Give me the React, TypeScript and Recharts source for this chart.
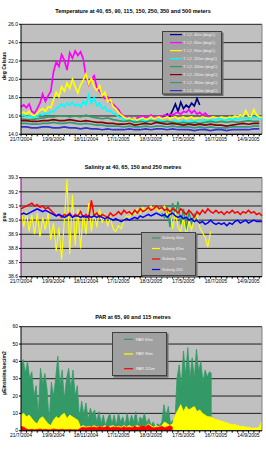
import React from "react";
import { ComposedChart, Line, Area, XAxis, YAxis, CartesianGrid, ReferenceLine, Legend } from "recharts";

const FONT = "'Liberation Sans', Arial, sans-serif";
const W = 266;

// day 0 = 21/7/2004
const LAST_DAY = 445;
const DATE_TICKS = [0, 60, 120, 180, 240, 300, 360, 420];
const DATE_LABELS = ["21/7/2004", "19/9/2004", "18/11/2004", "17/1/2005", "18/3/2005", "17/5/2005", "16/7/2005", "14/9/2005"];
const MINOR_TICKS = Array.from({ length: 45 }, (_, i) => i * 10);

// ---- temperature, degC ----
const temp40m = [15.8, 15.9, 16.2, 16.0, 16.6, 17.3, 16.5, 17.5, 16.8, 17.2, 16.9, 17.4, 17.1, 17.9, 17.2]; // from day 260, every 5 days
const temp65m = [
  17.0, 17.2, 16.9, 17.3, 16.5, 16.3, 16.8, 17.4, 18.4, 17.6,
  18.2, 18.7, 20.8, 21.9, 21.4, 22.7, 22.1, 21.0, 22.9, 22.3,
  23.1, 22.6, 23.0, 22.2, 20.3, 19.4, 20.0, 20.4, 19.1, 18.7,
  18.3, 17.9, 18.1, 17.5, 17.3, 17.0, 16.7, 16.2, 16.0, 15.8,
  15.9, 15.7, 15.6, 15.8, 15.9, 16.0, 15.8, 15.9, 16.1, 15.9,
  15.8, 16.0, 15.9, 16.1, 16.0, 16.2, 16.1, 16.3, 16.4, 16.2,
  16.5, 16.4, 16.7, 16.3, 16.6, 16.2, 16.4, 16.1, 16.3, 16.0,
  15.9,
]; // from day 0, every 5 days
const temp90m = [
  16.3, 16.4, 16.2, 16.5, 16.1, 16.0, 16.3, 16.6, 16.8, 16.5,
  17.0, 16.9, 17.8, 18.6, 18.1, 19.2, 18.7, 19.6, 19.0, 20.0,
  19.2, 18.5, 19.4, 19.9, 20.6, 19.5, 20.1, 19.2, 18.8, 19.3,
  18.2, 18.6, 17.6, 17.8, 17.0, 16.8, 16.4, 16.1, 15.9, 15.7,
  15.8, 15.6, 15.7, 15.5, 15.7, 15.8, 15.6, 15.7, 15.9, 15.7,
  15.8, 15.9, 15.7, 15.8, 15.9, 15.7, 15.8, 15.9, 15.7, 15.8,
  15.9, 15.7, 15.8, 15.9, 15.7, 15.8, 15.7, 15.9, 15.8, 15.7,
  15.8, 15.9, 15.8, 15.7, 15.9, 15.8, 15.7, 15.9, 15.8, 16.0,
  15.9, 16.1, 15.9, 16.6, 16.0, 15.9, 16.7, 16.1, 15.9, 15.8,
];
const temp115m = [
  16.0, 16.1, 15.9, 16.0, 15.9, 15.8, 16.0, 16.2, 16.1, 16.3,
  16.2, 16.5, 16.4, 16.8, 17.0, 17.3, 17.0, 17.4, 17.2, 17.5,
  17.1, 17.3, 17.0, 17.6, 17.2, 18.3, 17.4, 18.0, 17.1, 17.4,
  16.8, 17.0, 16.5, 16.6, 16.3, 16.2, 15.9, 15.8, 15.6, 15.5,
  15.6, 15.4, 15.5, 15.3, 15.5, 15.6, 15.4, 15.5, 15.6, 15.5,
  15.4, 15.6, 15.5, 15.4, 15.5, 15.3, 15.4, 15.5, 15.4, 15.3,
  15.5, 15.4, 15.3, 15.5, 15.4, 15.5, 15.6, 15.5, 15.6, 15.5,
  15.6, 15.5, 15.6, 15.7, 15.6, 15.5, 15.6, 15.7, 15.6, 15.7,
  15.6, 15.7, 15.8, 15.7, 15.8, 15.7, 15.9, 15.8, 15.7, 15.7,
];
// deeper sensors, every 10 days
const temp150m = [
  15.7, 15.6, 15.6, 15.7, 15.8, 15.9, 15.9, 16.0, 16.0, 15.9,
  16.0, 15.9, 16.1, 15.9, 15.8, 15.7, 15.8, 15.6, 15.5, 15.4,
  15.5, 15.3, 15.4, 15.3, 15.5, 15.4, 15.3, 15.4, 15.3, 15.2,
  15.3, 15.2, 15.3, 15.2, 15.3, 15.4, 15.3, 15.4, 15.3, 15.4,
  15.3, 15.4, 15.5, 15.4, 15.4,
];
const temp250m = [
  15.5, 15.5, 15.4, 15.4, 15.5, 15.5, 15.6, 15.5, 15.5, 15.6,
  15.5, 15.4, 15.5, 15.4, 15.3, 15.3, 15.2, 15.2, 15.1, 15.1,
  15.2, 15.0, 15.1, 15.2, 15.1, 15.3, 15.2, 15.1, 15.2, 15.1,
  15.0, 15.1, 15.0, 15.1, 15.0, 15.1, 15.0, 15.0, 14.9, 15.0,
  15.1, 15.2, 15.1, 15.2, 15.2,
];
const temp350m = [
  15.2, 15.2, 15.1, 15.1, 15.2, 15.2, 15.3, 15.2, 15.2, 15.3,
  15.2, 15.1, 15.2, 15.1, 15.0, 15.0, 14.9, 14.9, 14.9, 14.8,
  14.9, 14.8, 14.8, 14.9, 14.8, 14.9, 14.9, 14.8, 14.9, 14.8,
  14.8, 14.8, 14.7, 14.8, 14.7, 14.8, 14.7, 14.7, 14.7, 14.8,
  14.8, 14.8, 14.8, 14.9, 14.9,
];
const temp500m = [
  14.8, 14.8, 14.7, 14.7, 14.8, 14.8, 14.7, 14.7, 14.8, 14.7,
  14.7, 14.6, 14.7, 14.6, 14.6, 14.5, 14.6, 14.5, 14.5, 14.5,
  14.6, 14.5, 14.5, 14.6, 14.5, 14.6, 14.6, 14.5, 14.6, 14.5,
  14.5, 14.5, 14.4, 14.5, 14.5, 14.4, 14.5, 14.5, 14.4, 14.5,
  14.5, 14.5, 14.5, 14.6, 14.6,
];
const TEMP_TICKS = [14, 16, 18, 20, 22, 24, 26];

// ---- salinity, psu ----
const sal40m = [39.05, 39.02, 39.1, 38.95, 39.12, 39.04, 39.13, 38.97, 39.08, 38.93, 39.06, 38.98, 39.04, 39.0]; // from day 260
const sal65m = [
  39.1, 38.95, 39.06, 38.92, 39.04, 38.9, 39.05, 38.88, 39.02, 38.93,
  39.05, 38.86, 38.98, 38.78, 38.95, 38.72, 39.0, 39.29, 38.76, 39.18,
  38.82, 39.08, 38.8, 39.05, 38.9, 39.12, 38.92, 39.06, 38.95, 39.08,
  38.98, 39.04, 38.96, 39.02, 38.94, 38.92, 38.96, 38.94, 39.0, 39.03,
  39.02, 39.06, 39.04, 39.08, 39.05, 39.09, 39.06, 39.08, 39.1, 39.07,
  39.09, 39.06, 39.08, 39.1, 39.03, 39.08, 38.94, 39.06, 38.95, 38.92,
  39.02, 38.9, 38.99, 38.93, 39.01, 39.03, 38.95, 38.91, 38.88, 38.81,
  38.92,
];
const sal150m = [
  39.08, 39.09, 39.1, 39.11, 39.12, 39.1, 39.11, 39.09, 39.1, 39.08,
  39.09, 39.07, 39.05, 39.03, 39.04, 39.02, 39.04, 39.03, 39.05, 39.02,
  39.04, 39.03, 39.06, 39.02, 39.04, 39.01, 39.14, 39.03, 39.05, 39.02,
  39.04, 39.03, 39.02, 39.05, 39.03, 39.04, 39.06, 39.04, 39.07, 39.05,
  39.06, 39.04, 39.07, 39.05, 39.08, 39.06, 39.07, 39.09, 39.07, 39.08,
  39.1, 39.08, 39.09, 39.07, 39.08, 39.06, 39.08, 39.07, 39.05, 39.08,
  39.06, 39.04, 39.07, 39.05, 39.02, 39.06, 39.04, 39.07, 39.05, 39.08,
  39.06, 39.05, 39.07, 39.05, 39.06, 39.04, 39.06, 39.05, 39.07, 39.05,
  39.06, 39.04, 39.06, 39.05, 39.07, 39.05, 39.06, 39.04, 39.05, 39.03,
];
const sal250m = [
  39.04, 39.05, 39.04, 39.05, 39.06, 39.07, 39.08, 39.07, 39.06, 39.07,
  39.06, 39.05, 39.04, 39.03, 39.04, 39.03, 39.02, 39.03, 39.04, 39.02,
  39.03, 39.03, 39.02, 39.03, 39.02, 39.03, 39.02, 39.03, 39.02, 39.03,
  39.02, 39.01, 39.02, 39.01, 39.0, 39.01, 39.0, 38.99, 39.0, 39.01,
  39.0, 39.01, 39.02, 39.01, 39.03, 39.02, 39.03, 39.04, 39.03, 39.04,
  39.05, 39.04, 39.03, 39.04, 39.02, 39.04, 39.05, 39.03, 39.02, 39.03,
  39.01, 39.02, 39.0, 39.01, 38.99, 39.0, 38.98, 38.99, 38.97, 38.98,
  39.0, 38.98, 38.97, 38.98, 38.97, 38.98, 38.96, 38.98, 38.97, 38.99,
  39.0, 38.98, 38.99, 39.0, 38.98, 38.99, 39.0, 38.99, 38.99, 38.99,
];
const SAL_TICKS = [38.6, 38.7, 38.8, 38.9, 39.0, 39.1, 39.2, 39.3];

// ---- PAR, µEinsteins/sec/m2 ----
const par65m = [
  38, 41, 33, 40, 30, 34, 20, 26, 9, 36,
  27, 33, 24, 5, 28, 20, 30, 43, 26, 35,
  18, 30, 36, 24, 35, 20, 26, 7, 17, 9,
  16, 6, 13, 9, 12, 5, 11, 4, 9, 3,
  7, 10, 4, 9, 3, 10, 5, 8, 3, 10,
  4, 9, 5, 11, 3, 8, 6, 10, 4, 7,
  3, 5, 2, 4, 3, 5, 15, 8, 14, 4,
  6, 3, 30, 38, 26, 46, 32, 48, 30, 42,
  30, 47, 34, 40, 28, 35, 31, 34, 33,
]; // every 4 days
const par90m = [
  9, 10, 8, 9, 7, 5, 4, 7, 8, 6,
  4, 3, 6, 8, 7, 9, 10, 7, 9, 8,
  7, 6, 2, 3, 2, 2.5, 2, 3, 2, 2.5,
  2, 3, 2, 2.5, 3, 2, 2.5, 2, 3, 2,
  3, 2, 2.5, 3, 2, 3, 2, 4, 3, 2,
  3, 2, 3, 5, 4, 3, 4, 9, 12, 15,
  11, 14, 12, 13, 14, 11, 12, 10, 9, 8,
  8, 7, 6.5, 6, 5.5, 5, 4.5, 4, 3.5, 3.5,
  3, 2.5, 2.5, 2, 2, 1.5, 1.5, 1.5, 2, 6,
];
const par115m = [
  2.5, 2, 1, 0.5, 0.8, 0.5, 0.7, 1, 0.6, 0.8,
  0.5, 0.6, 1, 0.7, 0.5, 0.8, 0.6, 0.5, 0.7, 0.5,
  0.6, 0.4, 1.5, 2, 1.5, 2, 1.8, 2.2, 1.6, 2.4,
  1.8, 2, 2.5, 1.6, 2.2, 1.8, 2, 1.5, 2.3, 1.7,
  2, 1.6, 2.5, 1.8, 2.2, 3, 2, 3.5, 2.2, 1.5,
  2, 1.8, 2.5, 1.7, 2.2, 2.8, 2,
];
const PAR_TICKS = [0, 10, 20, 30, 40, 50, 60];

type Pt = { d: number; v: number };
const pts = (start: number, step: number, vals: number[]): Pt[] => vals.map((v, i) => ({ d: start + i * step, v }));

type Series = { name: string; color: string; data: Pt[]; width?: number };

const TEMP_SERIES: Series[] = [
  { name: "T. L2. 40m (degC)", color: "#000080", data: pts(260, 5, temp40m) },
  { name: "T. L2. 65m (degC)", color: "#ff00ff", data: pts(0, 5, temp65m) },
  { name: "T. L2. 90m (degC)", color: "#ffff00", data: pts(0, 5, temp90m) },
  { name: "T. L2. 115m (degC)", color: "#00ffff", data: pts(0, 5, temp115m) },
  { name: "T. L2. 150m (degC)", color: "#339966", data: pts(0, 10, temp150m) },
  { name: "T. L2. 250m (degC)", color: "#800000", data: pts(0, 10, temp250m) },
  { name: "T. L2. 350m (degC)", color: "#339980", data: pts(0, 10, temp350m) },
  { name: "T. L1. 500m (degC)", color: "#3333cc", data: pts(0, 10, temp500m) },
];

const SAL_SERIES: Series[] = [
  { name: "Salinity 40m", color: "#339966", data: pts(260, 5, sal40m) },
  { name: "Salinity 65m", color: "#ffff00", data: pts(0, 5, sal65m), width: 1.1 },
  { name: "Salinity 150m", color: "#ff0000", data: pts(0, 5, sal150m) },
  { name: "Salinity 250", color: "#0000ff", data: pts(0, 5, sal250m) },
];

const PAR_SERIES: Series[] = [
  { name: "PAR 65m", color: "#339966", data: pts(0, 4, par65m) },
  { name: "PAR 90m", color: "#ffff00", data: pts(0, 5, par90m) },
  { name: "PAR 115m", color: "#ff0000", data: pts(0, 5, par115m) },
];

const dateLabel = (d: number) => {
  const k = DATE_TICKS.indexOf(d);
  return k >= 0 ? DATE_LABELS[k] : "";
};

type LegendCfg = { x: number; y: number; w: number; h: number; row0: number; rowStep: number; lx0: number; lx1: number; tx: number };

function LegendBox({ items, cfg }: { items: Series[]; cfg: LegendCfg }) {
  return (
    <svg width={cfg.w + 2} height={cfg.h + 2} style={{ display: "block" }}>
      <rect x={1.5} y={1.5} width={cfg.w} height={cfg.h} fill="#6e6e6e" />
      <rect x={0.5} y={0.5} width={cfg.w - 1} height={cfg.h - 1} fill="#a0a0a0" stroke="#404040" strokeWidth={1} />
      {items.map((s, i) => {
        const y = cfg.row0 + i * cfg.rowStep;
        return (
          <g key={s.name}>
            <line x1={cfg.lx0} x2={cfg.lx1} y1={y} y2={y} stroke={s.color} strokeWidth={1.2} />
            <text x={cfg.tx} y={y + 1.3} fontSize={4} fill="#f4f4f4" fontFamily={FONT}>{s.name}</text>
          </g>
        );
      })}
    </svg>
  );
}

type PanelProps = {
  top: number; height: number; plotTop: number; plotBottom: number;
  title: string; titleY: number; yLabel: string; yLabelY: number;
  yDomain: [number, number]; yTicks: number[]; digits: number; axisColor: string;
  series: Series[]; area?: boolean; lineWidth?: number; legend: LegendCfg;
};

function Panel(p: PanelProps) {
  return (
    <div style={{ position: "absolute", left: 0, top: p.top, width: W, height: p.height }}>
      <ComposedChart width={W} height={p.height} margin={{ top: p.plotTop, right: 4, bottom: 0, left: 0 }}>
        <CartesianGrid vertical={false} stroke="#1e1e1e" fill="#c0c0c0" />
        <XAxis
          type="number" dataKey="d" domain={[0, LAST_DAY]} ticks={MINOR_TICKS} interval={0}
          tickFormatter={dateLabel} height={p.height - p.plotBottom} tickSize={2} tickMargin={1}
          tick={{ fontSize: 5, fill: "#000", fontFamily: FONT }}
          axisLine={{ stroke: "#000" }} tickLine={{ stroke: "#000" }}
        />
        <YAxis
          type="number" domain={p.yDomain} ticks={p.yTicks} interval={0} allowDataOverflow
          tickFormatter={(v: number) => v.toFixed(p.digits)} width={21} tickSize={2} tickMargin={1}
          tick={{ fontSize: 5, fill: "#000", fontFamily: FONT }}
          axisLine={{ stroke: p.axisColor }} tickLine={{ stroke: "#000" }}
        />
        <ReferenceLine x={LAST_DAY} stroke="#808080" />
        {p.series.map((s) =>
          p.area ? (
            <Area key={s.name} data={s.data} dataKey="v" name={s.name} type="linear" stroke={s.color} strokeWidth={0.8}
              fill={s.color} fillOpacity={1} dot={false} activeDot={false} isAnimationActive={false} />
          ) : (
            <Line key={s.name} data={s.data} dataKey="v" name={s.name} type="linear" stroke={s.color}
              strokeWidth={s.width ?? p.lineWidth ?? 1.5} dot={false} activeDot={false} isAnimationActive={false} />
          )
        )}
        <Legend
          layout="vertical" align="center" verticalAlign="middle"
          wrapperStyle={{ left: p.legend.x, top: p.legend.y, width: p.legend.w + 2, height: p.legend.h + 2 }}
          content={() => <LegendBox items={p.series} cfg={p.legend} />}
        />
      </ComposedChart>
      <svg width={W} height={p.height} style={{ position: "absolute", left: 0, top: 0, pointerEvents: "none" }}>
        <text x={133} y={p.titleY} textAnchor="middle" dominantBaseline="middle" fontSize={5.5} fontWeight="bold" fontFamily={FONT} fill="#000">
          {p.title}
        </text>
        <text transform={`translate(4.5,${p.yLabelY}) rotate(-90)`} textAnchor="middle" dominantBaseline="middle" fontSize={5} fontWeight="bold" fontFamily={FONT} fill="#000">
          {p.yLabel}
        </text>
      </svg>
    </div>
  );
}

export default function App() {
  return (
    <div style={{ position: "absolute", left: 0, top: 0, width: W, height: 453, background: "#fff", fontFamily: FONT }}>
      <Panel
        top={0} height={150} plotTop={24.3} plotBottom={134.3}
        title="Temperature at 40, 65, 90, 115, 150, 250, 350 and 500 meters" titleY={11.7}
        yLabel="deg Celsius" yLabelY={66}
        yDomain={[14, 26]} yTicks={TEMP_TICKS} digits={1} axisColor="#000"
        series={TEMP_SERIES} lineWidth={1.7}
        legend={{ x: 162, y: 30.7, w: 60, h: 63.5, row0: 3.6, rowStep: 8, lx0: 8, lx1: 20, tx: 21 }}
      />
      <Panel
        top={150} height={150} plotTop={27.7} plotBottom={126.7}
        title="Salinity at 40, 65, 150 and 250 metres" titleY={18}
        yLabel="psu" yLabelY={67}
        yDomain={[38.6, 39.3]} yTicks={SAL_TICKS} digits={1} axisColor="#800080"
        series={SAL_SERIES} lineWidth={1.5}
        legend={{ x: 141, y: 82.3, w: 55, h: 44, row0: 6, rowStep: 10.5, lx0: 11, lx1: 19, tx: 21 }}
      />
      <Panel
        top={300} height={153} plotTop={26.7} plotBottom={130.7}
        title="PAR at 65, 90 and 115 metres" titleY={17.3}
        yLabel="µEinsteins/sec/m2" yLabelY={73}
        yDomain={[0, 60]} yTicks={PAR_TICKS} digits={0} axisColor="#000"
        series={PAR_SERIES} area
        legend={{ x: 112, y: 32, w: 55, h: 44, row0: 7.3, rowStep: 14.7, lx0: 12, lx1: 21, tx: 24 }}
      />
    </div>
  );
}
